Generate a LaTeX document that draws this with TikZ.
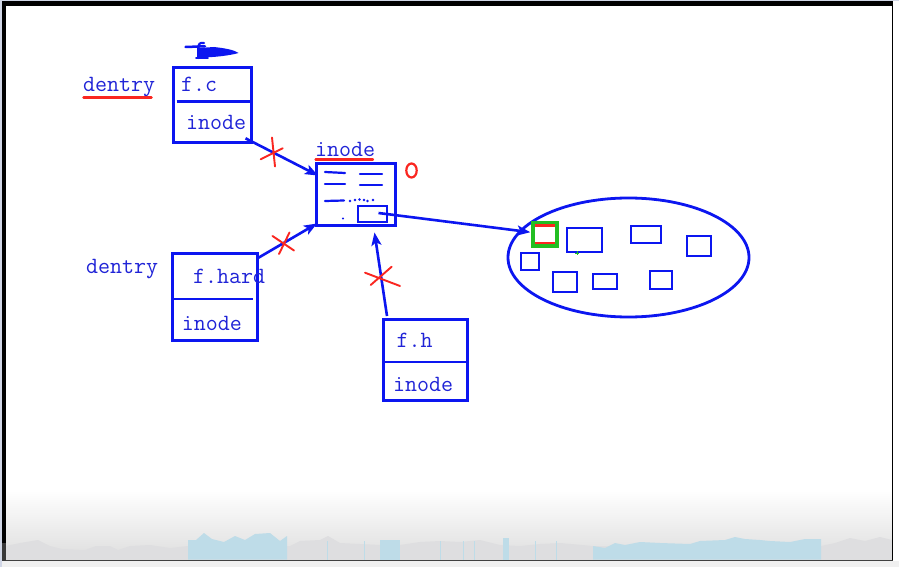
\documentclass[tikz,border=0pt]{standalone}
\usepackage{fontspec}
\usetikzlibrary{arrows.meta,shapes.geometric,calc}
\definecolor{mblue}{RGB}{12,22,240}
\definecolor{tblue}{RGB}{32,36,215}
\definecolor{mred}{RGB}{250,38,32}
\definecolor{mgreen}{RGB}{34,190,34}
\definecolor{lav}{RGB}{208,214,230}
\definecolor{skyb}{RGB}{190,220,232}
\definecolor{skyg}{RGB}{222,222,224}
\begin{document}
\begin{tikzpicture}[x=1pt,y=-1pt,
  box/.style={draw=mblue, line width=3pt, inner sep=0pt, outer sep=0pt},
  divider/.style={draw=mblue, line width=2.8pt},
  lbl/.style={font=\fontsize{23.3}{24}\ttfamily, text=tblue, anchor=base west, inner sep=0pt},
  conn/.style={draw=mblue, line width=2.6pt, -{Stealth[length=13pt,width=10pt,inset=3pt]}},
  cross/.style={draw=mred, line width=1.9pt, line cap=round},
  uline/.style={draw=mred, line width=2.5pt, line cap=round},
  ibline/.style={draw=mblue, line width=2.2pt, line cap=round}
]
\useasboundingbox (0,0) rectangle (899,567);
% ---- screen frame ----
\fill[lav] (0,0) rectangle (899,567);
\fill[white] (1.5,1.5) rectangle (899,561);
\fill[black!6] (1.5,561) rectangle (899,567);
\shade[top color=white, bottom color=black!13] (5.7,490) rectangle (891.8,559.5);
\fill[skyg] (5.7,559.5) -- (5.7,546) -- (20,543) -- (38,540) -- (50,546) -- (62,549) -- (85,550) -- (96,546) -- (110,546) -- (118,550) -- (130,546) -- (150,545) -- (170,548) -- (188,546)
  -- (290,546) -- (300,541) -- (320,540) -- (328,536) -- (340,543) -- (360,544) -- (380,545) -- (400,545) -- (420,542) -- (440,541) -- (460,542) -- (480,540) -- (500,545) -- (520,546) -- (540,544) -- (560,543) -- (593,546)
  -- (821,546) -- (835,543) -- (850,538) -- (865,541) -- (880,537) -- (891.8,540) -- (891.8,559.5) -- cycle;
\fill[skyb] (188,559.5) -- (188,540) -- (196,540) -- (204,533) -- (212,539) -- (224,542) -- (235,536) -- (245,540) -- (255,534) -- (270,533) -- (280,541) -- (287,536) -- (287,559.5) -- cycle;
\fill[skyb] (380,559.5) rectangle (400,539.5);
\fill[skyb] (503,559.5) rectangle (509,538);
\fill[skyb] (593,559.5) -- (593,546) -- (605,548) -- (615,543) -- (625,545) -- (640,542) -- (660,543) -- (690,544) -- (700,541) -- (725,540) -- (735,537) -- (745,539) -- (760,540) -- (770,541) -- (790,542) -- (805,539) -- (821,539) -- (821,559.5) -- cycle;
\foreach \xx in {327,364,440,463,474,535,556} {\draw[skyb, line width=0.8pt] (\xx,559.5) -- (\xx,541);}
\fill[black] (1.5,1.5) rectangle (893.3,5.7);
\fill[black] (1.5,1.5) rectangle (5.7,543);
\fill[black!78] (1.5,543) rectangle (5.7,561);
\fill[black] (891.8,1.5) rectangle (893.3,561);
\fill[black!75] (5.7,559.5) rectangle (893.3,561);
% ---- dentry f.c ----
\node[lbl] (d1) at (83,91.7) {dentry};
\draw[uline] (83.5,97.5) -- (151.5,97.5);
\node[box, minimum width=78, minimum height=75] (b1) at (212.5,104.8) {};
\draw[divider] (176.5,101.5) -- (251.5,101.5);
\node[lbl] (b1t) at (181,91.7) {f.c};
\node[lbl] (b1i) at (186,130) {inode};
% scribbled-out f above
\fill[mblue] (199,48) -- (214,47) .. controls (228,48.5) and (235,50.5) .. (238.5,53) .. controls (230,55.5) and (214,57.5) .. (199,57.5) -- cycle;
\draw[mblue, line width=2.5pt, line cap=round] (185.5,47) -- (205,46.3);
\draw[mblue, line width=2.2pt, line cap=round] (204,43) .. controls (199.5,42) and (198.3,44.5) .. (198.3,48) -- (198.3,58);
\draw[mblue, line width=1.6pt, line cap=round] (196,58.3) -- (208,58.3);
% ---- central inode ----
\node[lbl] (il) at (315,156) {inode};
\draw[draw=mred, line width=2.2pt, line cap=round] (315.5,159.5) -- (373,159.5);
\node[box, minimum width=79, minimum height=62] (ib) at (355.5,194.5) {};
\draw[ibline] (325,172) -- (345,173);
\draw[ibline] (360,174) -- (382,174);
\draw[ibline] (325,184) -- (345,184);
\draw[ibline] (360,185) -- (382,185);
\draw[ibline] (325,201) -- (344,200.5);
\foreach \xx/\yy in {350/201,355/200,359.5/199.5,364/200,367.5/201,373/200} {\fill[mblue] (\xx,\yy) circle (1.3pt);}
\fill[mblue] (343,218.5) circle (1.2pt);
\node[draw=mblue, line width=2.5pt, minimum width=29, minimum height=16, inner sep=0pt] (sr) at (372.5,214) {};
\draw[draw=mred, line width=2.2pt] (411.5,170.5) ellipse [x radius=5.2, y radius=7];
% ---- ellipse ----
\node[ellipse, draw=mblue, line width=2.8pt, minimum width=241, minimum height=119, inner sep=0pt] (pool) at (628.5,257.5) {};
\node[draw=mgreen, line width=3.8pt, fill=white, minimum width=24, minimum height=23, inner sep=0pt] (gb) at (545.2,234.2) {};
\draw[draw=mred, line width=2.4pt] (534.5,225.5) -- (554.5,225.5);
\draw[draw=mred, line width=2.4pt] (534.5,243) -- (554.5,243);
\foreach \nm/\cx/\cy/\w/\h in {p1/584.5/240/35/24, p2/646/234.5/30/17, p3/699/246/24/20, p4/530/261.5/18/17, p5/565/282/24/20, p6/605/281.5/24/15, p7/661/280/22/18}
  {\node[draw=mblue, line width=2.6pt, minimum width=\w, minimum height=\h, inner sep=0pt] (\nm) at (\cx,\cy) {};}
\draw[mgreen, line width=0.8pt] (575,253) -- (579,253) (577,251) -- (577,255);
% ---- dentry f.hard ----
\node[lbl] (d2) at (86,273) {dentry};
\node[box, minimum width=85, minimum height=87] (b2) at (214.5,296.5) {};
\draw[divider] (172,299) -- (253,299);
\node[lbl] (b2t) at (193,283.3) {f.hard};
\node[lbl] (b2i) at (181.7,330.7) {inode};
% ---- f.h ----
\node[box, minimum width=84, minimum height=81] (b3) at (425,359.5) {};
\draw[divider] (383,362) -- (469,362);
\node[lbl] (b3t) at (396.5,347.3) {f.h};
\node[lbl] (b3i) at (393,391.7) {inode};
% ---- connectors ----
\draw[conn] ($(b1.south east)+(-6,-4)$) -- ($(ib.north west)+(2,12)$);
\draw[conn] ($(b2.north east)+(1,5)$) -- ($(ib.south west)+(1,-2)$);
\draw[conn] ($(b3.north west)+(4,-3)$) -- ($(ib.south)+(19,7)$);
\draw[conn] ($(sr.center)+(6,-1)$) -- ($(gb.west)+(-1,-2)$);
% ---- red crosses ----
\draw[cross] (260.7,159.3) -- (282.7,148.3) (272,137.5) -- (275,166.5);
\draw[cross] (272.5,236) -- (294,250.5) (289.5,232.5) -- (279,254);
\draw[cross] (365,272.7) -- (400,286) (391.7,266.7) -- (370.7,285);
\end{tikzpicture}
\end{document}
